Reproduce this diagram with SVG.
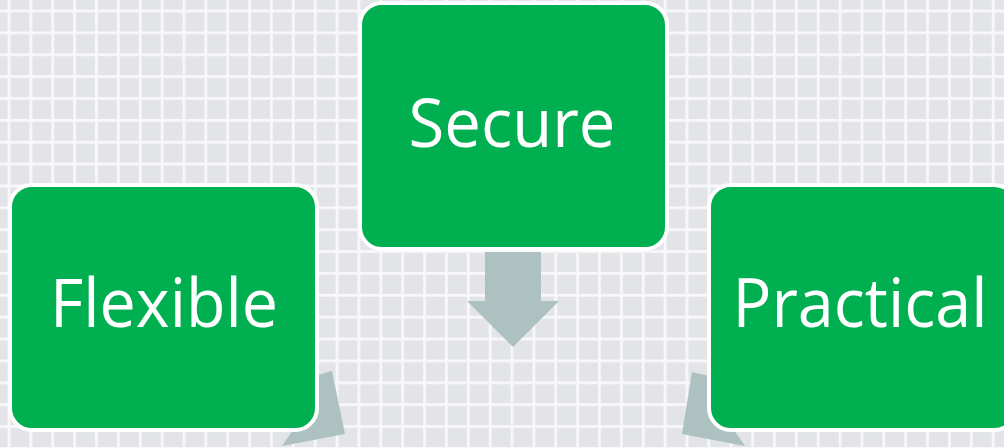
<svg xmlns="http://www.w3.org/2000/svg" width="1004" height="448" viewBox="0 0 1004 448">
  <defs>
    <pattern id="grid" x="7.6" y="9.6" width="21.87" height="21.87" patternUnits="userSpaceOnUse">
      <rect x="0" y="0" width="21.87" height="21.87" fill="#e3e4e8"/>
      <rect x="0" y="0" width="2.8" height="21.87" fill="#f8f8fa"/>
      <rect x="0" y="0" width="21.87" height="2.8" fill="#f8f8fa"/>
    </pattern>
  </defs>
  <style>
    .box { fill: #00b050; stroke: #ffffff; stroke-width: 4; }
    .lbl { fill: #ffffff; font-family: "Open Sans", "Noto Sans", sans-serif; font-size: 67px; text-anchor: middle; }
    .arr { fill: #adc1c1; }
  </style>
  <rect x="0" y="0" width="1004" height="448" fill="url(#grid)"/>
  <g id="connectors">
    <polygon class="arr" points="485,252 541,252 541,301 559,301 513,347 467,301 485,301"/>
    <polygon class="arr" points="332,371 345,434 282,446 300,420 300,380"/>
    <polygon class="arr" points="692,372 682,434 745,446 727,420 727,380"/>
  </g>
  <g id="node-secure">
    <rect class="box" x="360" y="3" width="307" height="246" rx="22"/>
    <text class="lbl" x="512" y="147" textLength="207" lengthAdjust="spacingAndGlyphs">Secure</text>
  </g>
  <g id="node-flexible">
    <rect class="box" x="10" y="185" width="307" height="245" rx="22"/>
    <text class="lbl" x="164" y="327" textLength="228" lengthAdjust="spacingAndGlyphs">Flexible</text>
  </g>
  <g id="node-practical">
    <rect class="box" x="709" y="185" width="307" height="245" rx="22"/>
    <text class="lbl" x="860" y="327" textLength="255" lengthAdjust="spacingAndGlyphs">Practical</text>
  </g>
</svg>
